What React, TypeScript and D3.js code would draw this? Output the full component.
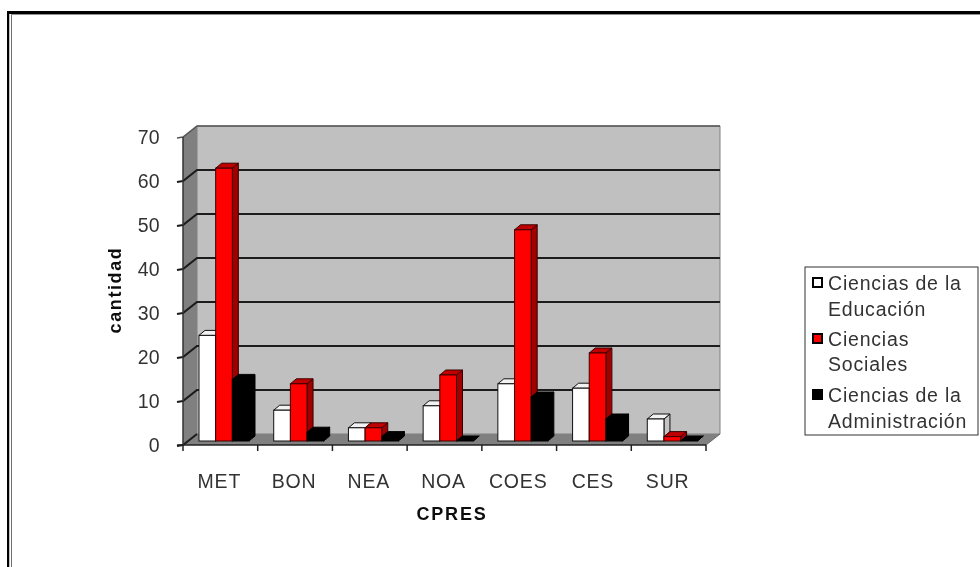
import React from "react"
import * as d3 from "d3"

const regions = ["MET", "BON", "NEA", "NOA", "COES", "CES", "SUR"]
const educacion = [24, 7, 3, 8, 13, 12, 5]
const sociales = [62, 13, 3, 15, 48, 20, 1]
const administracion = [14, 2, 1, 0, 10, 5, 0]
const yTicks = [0, 10, 20, 30, 40, 50, 60, 70]

const seriesNames = ["educacion", "sociales", "administracion"]
const seriesValues = [educacion, sociales, administracion]
const fills = ["#ffffff", "#ff0000", "#000000"]
const tops = ["#f2f2f2", "#c00000", "#000000"]
const sides = ["#c4c4c4", "#a00000", "#000000"]
const strokes = ["#111111", "#3a0000", "#000000"]

const legendLines = [
  { text: "Ciencias de la", y: 290 },
  { text: "Educación", y: 316 },
  { text: "Ciencias", y: 346 },
  { text: "Sociales", y: 371 },
  { text: "Ciencias de la", y: 402 },
  { text: "Administración", y: 428 },
]
const legendSwatches = [278, 334, 390]

const font = "'Liberation Sans', Arial, sans-serif"
const textColor = "#333333"

// wall depth and bar depth of the fake 3D box
const dx = 14
const dy = -11
const barDx = 6
const barDy = -5
const barLift = -4

const App = () => {
  const x = d3.scaleBand<string>().domain(regions).range([183, 706])
  const xSeries = d3.scaleBand<string>().domain(seriesNames).range([16, 66])
  const y = d3.scaleLinear().domain([0, 70]).range([445, 137])

  const x0 = x.range()[0]
  const x1 = x.range()[1]
  const y0 = y(0)
  const yTop = y(70)
  const pts = (p: number[][]) => p.map(d => d.join(",")).join(" ")

  return (
    <svg width={980} height={567} style={{ position: "fixed", left: 0, top: 0, background: "#fff" }}>
      <g filter="url(#soft)">
        {/* page frame */}
        <line x1={11} x2={980} y1={14.5} y2={14.5} stroke="#909090" strokeWidth={1} />
        <line x1={11.5} x2={11.5} y1={15} y2={567} stroke="#707070" strokeWidth={1} />
        <line x1={7} x2={980} y1={12.5} y2={12.5} stroke="#000" strokeWidth={3} />
        <line x1={8} x2={8} y1={11} y2={567} stroke="#000" strokeWidth={2.5} />

        {/* walls and floor */}
        <polygon points={pts([[x0 + dx, yTop + dy], [x1 + dx, yTop + dy], [x1 + dx, y0 + dy], [x0 + dx, y0 + dy]])} fill="#c0c0c0" stroke="#808080" />
        <polygon points={pts([[x0, yTop], [x0 + dx, yTop + dy], [x0 + dx, y0 + dy], [x0, y0]])} fill="#808080" />
        <polygon points={pts([[x0, y0], [x0 + dx, y0 + dy], [x1 + dx, y0 + dy], [x1, y0]])} fill="#808080" />

        {/* gridlines */}
        {yTicks.map(t => (
          <polyline
            key={t}
            points={pts([[x0 - 6, y(t) + 1], [x0, y(t)], [x0 + dx, y(t) + dy], ...(t === 0 ? [] : [[x1 + dx, y(t) + dy]])])}
            fill="none"
            stroke={t === 70 ? "#555555" : "#1a1a1a"}
            strokeWidth={t === 70 ? 1.5 : 2}
          />
        ))}

        {/* axes */}
        <line x1={x0} x2={x0} y1={yTop} y2={y0} stroke="#333" strokeWidth={1.5} />
        <line x1={x0 - 6} x2={x1} y1={y0} y2={y0} stroke="#222" strokeWidth={1.5} />
        <line x1={x1} x2={x1 + dx} y1={y0} y2={y0 + dy} stroke="#666" />
        {[...regions.map(r => x(r) as number), x1].map(t => (
          <line key={t} x1={t} x2={t} y1={y0} y2={y0 + 6} stroke="#222" strokeWidth={1.5} />
        ))}

        {/* bars */}
        {regions.map((r, i) =>
          seriesNames.map((s, k) => {
            const v = seriesValues[k][i]
            const left = (x(r) as number) + (xSeries(s) as number)
            const right = left + xSeries.bandwidth()
            const base = y(0) + barLift
            const top = y(v) + barLift
            return (
              <g key={r + s}>
                <polygon points={pts([[right, top], [right + barDx, top + barDy], [right + barDx, base + barDy], [right, base]])} fill={sides[k]} stroke={strokes[k]} />
                <polygon points={pts([[left, top], [left + barDx, top + barDy], [right + barDx, top + barDy], [right, top]])} fill={tops[k]} stroke={strokes[k]} />
                <rect x={left} y={top} width={right - left} height={base - top} fill={fills[k]} stroke={strokes[k]} />
              </g>
            )
          })
        )}

        {/* axis labels */}
        <g fontFamily={font} fontSize={19.5} fill={textColor} letterSpacing={0.3}>
          {yTicks.map(t => (
            <text key={t} x={160} y={y(t) + 7} textAnchor="end">{t}</text>
          ))}
        </g>
        <g fontFamily={font} fontSize={19.5} fill={textColor} letterSpacing={0.8}>
          {regions.map(r => (
            <text key={r} x={(x(r) as number) + x.bandwidth() / 2 - 1} y={488} textAnchor="middle">{r}</text>
          ))}
        </g>
        <text x={452} y={520} textAnchor="middle" fontFamily={font} fontSize={18} fontWeight="bold" fill="#111" letterSpacing={1.8}>CPRES</text>
        <text transform="translate(121,290) rotate(-90)" textAnchor="middle" fontFamily={font} fontSize={18} fontWeight="bold" fill="#111" letterSpacing={1.6}>cantidad</text>

        {/* legend */}
        <rect x={805} y={267} width={173} height={168} fill="#fff" stroke="#333" strokeWidth={1} />
        {legendSwatches.map((sy, k) => (
          <rect key={k} x={813} y={sy} width={9} height={9} fill={fills[k]} stroke="#000" strokeWidth={2} />
        ))}
        <g fontFamily={font} fontSize={19.5} fill={textColor} letterSpacing={0.8}>
          {legendLines.map((l, i) => (
            <text key={i} x={828} y={l.y}>{l.text}</text>
          ))}
        </g>
      </g>
      <defs>
        <filter id="soft" x="0" y="0" width="100%" height="100%">
          <feGaussianBlur stdDeviation="0.45" />
        </filter>
      </defs>
    </svg>
  )
}

export default App
